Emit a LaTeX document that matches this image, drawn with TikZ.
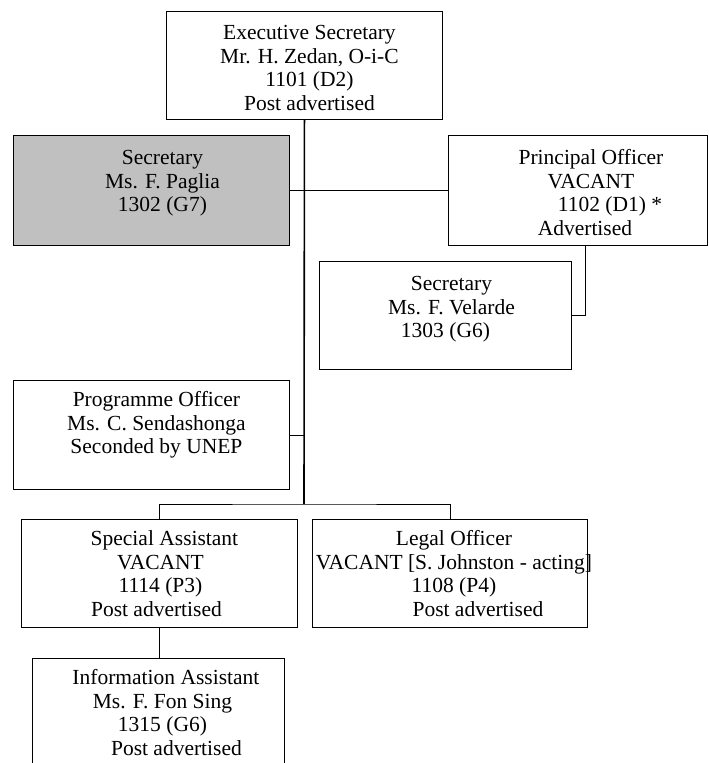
\documentclass[tikz,border=0pt]{standalone}
\usepackage{fontspec}
\setmainfont{Liberation Serif}
\newcommand{\fstrut}{\rule{0pt}{15pt}}
\definecolor{boxgray}{HTML}{C0C0C0}
\begin{document}
\begin{tikzpicture}[x=1pt,y=-1pt,
  box/.style={draw, line width=0.9pt, inner sep=0pt, anchor=north west, minimum width=276pt, minimum height=108pt},
  txt/.style={anchor=north, inner sep=0pt, align=center, font=\fontsize{21.5}{23.8}\selectfont},
  conn/.style={line width=0.9pt},
  trunk/.style={line width=1.6pt}]
\useasboundingbox (0,0) rectangle (709,763);
\clip (0,0) rectangle (709,763);
% boxes
\node[box] (exec) at (166,11) {};
\node[box, fill=boxgray, minimum height=110pt] (pag) at (13,135) {};
\node[box, minimum width=259pt, minimum height=110pt] (prin) at (448,135) {};
\node[box, minimum width=252pt] (vel) at (319,261) {};
\node[box, minimum height=109pt] (prog) at (13,380) {};
\node[box] (spec) at (21,519) {};
\node[box, minimum width=275pt] (legal) at (312,519) {};
\node[box, minimum width=252pt, minimum height=120pt] (info) at (32,658) {};
\coordinate (bus) at (304,504);
% connectors
\draw[trunk] (exec.south) -- (bus);
\draw[conn] (spec.north) |- (bus) -| (legal.north);
\draw[conn] (pag.east) -- (prin.west);
\draw[conn] (prog.east) -- (prog.east -| bus);
\draw[conn] ([xshift=7.5pt]prin.south) |- (vel.east);
\draw[conn] (spec.south) -- (spec.south |- info.north);
% texts
\node[txt, xshift=5pt, yshift=-13pt] (exect) at (exec.north) {\fstrut Executive Secretary\\Mr. H. Zedan, O-i-C\\1101 (D2)\\Post advertised};
\node[txt, xshift=11pt, yshift=-14pt] (pagt) at (pag.north) {\fstrut Secretary\\Ms. F. Paglia\\1302 (G7)};
\node[txt, xshift=13pt, yshift=-14pt] (print) at (prin.north) {\fstrut Principal Officer\\VACANT\\\hspace*{38pt}1102 (D1) *\\Advertised\hspace*{12pt}};
\node[txt, xshift=6pt, yshift=-14pt] (velt) at (vel.north) {\fstrut Secretary\\Ms. F. Velarde\\1303 (G6)\hspace*{12pt}};
\node[txt, xshift=5pt, yshift=-11pt] (progt) at (prog.north) {\fstrut Programme Officer\\Ms. C. Sendashonga\\Seconded by UNEP};
\node[txt, xshift=1pt, yshift=-11pt] (spect) at (spec.north) {\fstrut\hspace*{8pt}Special Assistant\\VACANT\\1114 (P3)\\Post advertised\hspace*{8pt}};
\node[txt, xshift=4pt, yshift=-11pt] (legalt) at (legal.north) {\fstrut Legal Officer\\VACANT [S. Johnston - acting]\\1108 (P4)\\\hspace*{48pt}Post advertised};
\node[txt, xshift=4pt, yshift=-11pt] (infot) at (info.north) {\fstrut\hspace*{7pt}Information Assistant\\Ms. F. Fon Sing\\1315 (G6)\hspace*{5pt}\\\hspace*{28pt}Post advertised};
\end{tikzpicture}
\end{document}
